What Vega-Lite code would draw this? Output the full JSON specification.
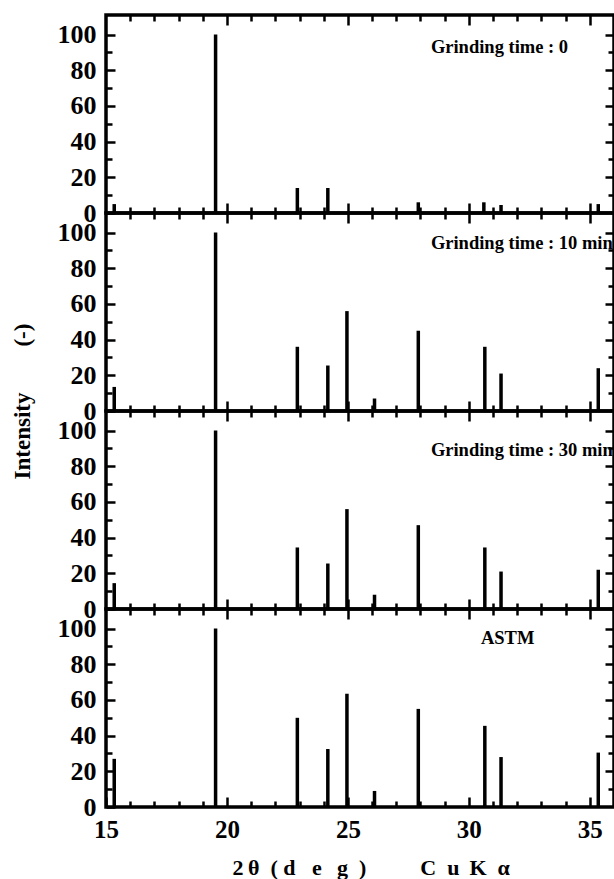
{
  "$schema": "https://vega.github.io/schema/vega-lite/v6.json",
  "background": "white",
  "padding": {"left": 9, "top": 12, "right": 0, "bottom": 0},
  "spacing": 0,
  "bounds": "flush",
  "config": {
    "view": {"stroke": "black", "strokeWidth": 3.5},
    "axis": {"labelOverlap": false, "domain": false, "grid": false, "tickColor": "black", "tickWidth": 2.5, "labelColor": "black", "titleColor": "black"}
  },
  "datasets": {
    "peaks": [
      {"panel": "t0", "two_theta": 15.34, "intensity": 5},
      {"panel": "t0", "two_theta": 19.53, "intensity": 100},
      {"panel": "t0", "two_theta": 22.91, "intensity": 14},
      {"panel": "t0", "two_theta": 24.17, "intensity": 14},
      {"panel": "t0", "two_theta": 27.91, "intensity": 6},
      {"panel": "t0", "two_theta": 30.62, "intensity": 6},
      {"panel": "t0", "two_theta": 31.33, "intensity": 4.5},
      {"panel": "t0", "two_theta": 35.35, "intensity": 5},
      {"panel": "t10", "two_theta": 15.34, "intensity": 13.5},
      {"panel": "t10", "two_theta": 19.53, "intensity": 100},
      {"panel": "t10", "two_theta": 22.91, "intensity": 36},
      {"panel": "t10", "two_theta": 24.17, "intensity": 25.5},
      {"panel": "t10", "two_theta": 24.96, "intensity": 56},
      {"panel": "t10", "two_theta": 26.1, "intensity": 7},
      {"panel": "t10", "two_theta": 27.91, "intensity": 45},
      {"panel": "t10", "two_theta": 30.66, "intensity": 36},
      {"panel": "t10", "two_theta": 31.33, "intensity": 21},
      {"panel": "t10", "two_theta": 35.35, "intensity": 24},
      {"panel": "t30", "two_theta": 15.34, "intensity": 14.5},
      {"panel": "t30", "two_theta": 19.53, "intensity": 100},
      {"panel": "t30", "two_theta": 22.91, "intensity": 34.5},
      {"panel": "t30", "two_theta": 24.17, "intensity": 25.5},
      {"panel": "t30", "two_theta": 24.96, "intensity": 56},
      {"panel": "t30", "two_theta": 26.1, "intensity": 8},
      {"panel": "t30", "two_theta": 27.91, "intensity": 47},
      {"panel": "t30", "two_theta": 30.66, "intensity": 34.5},
      {"panel": "t30", "two_theta": 31.33, "intensity": 21},
      {"panel": "t30", "two_theta": 35.35, "intensity": 22},
      {"panel": "astm", "two_theta": 15.34, "intensity": 27},
      {"panel": "astm", "two_theta": 19.53, "intensity": 100},
      {"panel": "astm", "two_theta": 22.91, "intensity": 50},
      {"panel": "astm", "two_theta": 24.17, "intensity": 32.5},
      {"panel": "astm", "two_theta": 24.96, "intensity": 63.5},
      {"panel": "astm", "two_theta": 26.1, "intensity": 9},
      {"panel": "astm", "two_theta": 27.91, "intensity": 55},
      {"panel": "astm", "two_theta": 30.66, "intensity": 45.5},
      {"panel": "astm", "two_theta": 31.33, "intensity": 28},
      {"panel": "astm", "two_theta": 35.35, "intensity": 30.5}
    ]
  },
  "vconcat": [
    {
      "width": 508, "height": 198,
      "layer": [
        {
          "data": {"name": "peaks"},
          "transform": [{"filter": "datum.panel === 't0'"}],
          "mark": {"type": "rule", "strokeWidth": 3.5, "color": "black"},
          "encoding": {
            "x": {"field": "two_theta", "type": "quantitative", "scale": {"domain": [15, 36], "nice": false, "zero": false},
              "axis": {"orient": "bottom", "values": [16,17,18,19,20,21,22,23,24,25,26,27,28,29,30,31,32,33,34,35], "labels": false, "title": null,
                "tickSize": {"condition": {"test": "datum.value % 5 === 0", "value": -10}, "value": -6}}},
            "y": {"field": "intensity", "type": "quantitative", "scale": {"domain": [0, 111], "nice": false},
              "axis": {"orient": "left", "values": [0,10,20,30,40,50,60,70,80,90,100], "title": null,
                "labelExpr": "datum.value % 20 === 0 ? datum.label : ''", "labelFont": "Liberation Serif", "labelFontWeight": "bold", "labelFontSize": 26, "labelPadding": 19,
                "tickSize": {"condition": {"test": "datum.value % 20 === 0", "value": -9}, "value": -6}}},
            "y2": {"datum": 0}
          }
        },
        {
          "data": {"values": [{"label": "Grinding time : 0"}]},
          "mark": {"type": "text", "align": "left", "baseline": "middle", "font": "Liberation Serif", "fontWeight": "bold", "fontSize": 18.5, "color": "black"},
          "encoding": {
            "x": {"datum": 28.43, "type": "quantitative",
              "axis": {"orient": "top", "values": [16,17,18,19,20,21,22,23,24,25,26,27,28,29,30,31,32,33,34,35], "labels": false, "title": null,
                "tickSize": {"condition": {"test": "datum.value % 5 === 0", "value": -10}, "value": -6}}},
            "y": {"datum": 93, "type": "quantitative",
              "axis": {"orient": "right", "values": [10,20,30,40,50,60,70,80,90,100], "labels": false, "title": null,
                "tickSize": {"condition": {"test": "datum.value % 20 === 0", "value": -9}, "value": -6}}},
            "text": {"field": "label"}
          }
        }
      ],
      "resolve": {"axis": {"x": "independent", "y": "independent"}}
    },
    {
      "width": 508, "height": 198,
      "layer": [
        {
          "data": {"name": "peaks"},
          "transform": [{"filter": "datum.panel === 't10'"}],
          "mark": {"type": "rule", "strokeWidth": 3.5, "color": "black"},
          "encoding": {
            "x": {"field": "two_theta", "type": "quantitative", "scale": {"domain": [15, 36], "nice": false, "zero": false},
              "axis": {"orient": "bottom", "values": [16,17,18,19,20,21,22,23,24,25,26,27,28,29,30,31,32,33,34,35], "labels": false, "title": null,
                "tickSize": {"condition": {"test": "datum.value % 5 === 0", "value": -10}, "value": -6}}},
            "y": {"field": "intensity", "type": "quantitative", "scale": {"domain": [0, 111], "nice": false},
              "axis": {"orient": "left", "values": [0,10,20,30,40,50,60,70,80,90,100],
                "title": "Intensity\u00a0\u00a0\u00a0\u00a0\u00a0\u00a0\u00a0\u00a0(-)", "titleFont": "Liberation Serif", "titleFontWeight": "bold", "titleFontSize": 23,
                "titleAngle": 270, "titleX": -84, "titleY": 188, "titleAlign": "center", "titleBaseline": "middle",
                "labelExpr": "datum.value % 20 === 0 ? datum.label : ''", "labelFont": "Liberation Serif", "labelFontWeight": "bold", "labelFontSize": 26, "labelPadding": 19,
                "tickSize": {"condition": {"test": "datum.value % 20 === 0", "value": -9}, "value": -6}}},
            "y2": {"datum": 0}
          }
        },
        {
          "data": {"values": [{"label": "Grinding time : 10 min"}]},
          "mark": {"type": "text", "align": "left", "baseline": "middle", "font": "Liberation Serif", "fontWeight": "bold", "fontSize": 18.5, "color": "black"},
          "encoding": {
            "x": {"datum": 28.43, "type": "quantitative",
              "axis": {"orient": "top", "values": [16,17,18,19,20,21,22,23,24,25,26,27,28,29,30,31,32,33,34,35], "labels": false, "title": null,
                "tickSize": {"condition": {"test": "datum.value % 5 === 0", "value": -10}, "value": -6}}},
            "y": {"datum": 94, "type": "quantitative",
              "axis": {"orient": "right", "values": [10,20,30,40,50,60,70,80,90,100], "labels": false, "title": null,
                "tickSize": {"condition": {"test": "datum.value % 20 === 0", "value": -9}, "value": -6}}},
            "text": {"field": "label"}
          }
        }
      ],
      "resolve": {"axis": {"x": "independent", "y": "independent"}}
    },
    {
      "width": 508, "height": 198,
      "layer": [
        {
          "data": {"name": "peaks"},
          "transform": [{"filter": "datum.panel === 't30'"}],
          "mark": {"type": "rule", "strokeWidth": 3.5, "color": "black"},
          "encoding": {
            "x": {"field": "two_theta", "type": "quantitative", "scale": {"domain": [15, 36], "nice": false, "zero": false},
              "axis": {"orient": "bottom", "values": [16,17,18,19,20,21,22,23,24,25,26,27,28,29,30,31,32,33,34,35], "labels": false, "title": null,
                "tickSize": {"condition": {"test": "datum.value % 5 === 0", "value": -10}, "value": -6}}},
            "y": {"field": "intensity", "type": "quantitative", "scale": {"domain": [0, 111], "nice": false},
              "axis": {"orient": "left", "values": [0,10,20,30,40,50,60,70,80,90,100], "title": null,
                "labelExpr": "datum.value % 20 === 0 ? datum.label : ''", "labelFont": "Liberation Serif", "labelFontWeight": "bold", "labelFontSize": 26, "labelPadding": 19,
                "tickSize": {"condition": {"test": "datum.value % 20 === 0", "value": -9}, "value": -6}}},
            "y2": {"datum": 0}
          }
        },
        {
          "data": {"values": [{"label": "Grinding time : 30 min"}]},
          "mark": {"type": "text", "align": "left", "baseline": "middle", "font": "Liberation Serif", "fontWeight": "bold", "fontSize": 18.5, "color": "black"},
          "encoding": {
            "x": {"datum": 28.43, "type": "quantitative",
              "axis": {"orient": "top", "values": [16,17,18,19,20,21,22,23,24,25,26,27,28,29,30,31,32,33,34,35], "labels": false, "title": null,
                "tickSize": {"condition": {"test": "datum.value % 5 === 0", "value": -10}, "value": -6}}},
            "y": {"datum": 89, "type": "quantitative",
              "axis": {"orient": "right", "values": [10,20,30,40,50,60,70,80,90,100], "labels": false, "title": null,
                "tickSize": {"condition": {"test": "datum.value % 20 === 0", "value": -9}, "value": -6}}},
            "text": {"field": "label"}
          }
        }
      ],
      "resolve": {"axis": {"x": "independent", "y": "independent"}}
    },
    {
      "width": 508, "height": 198,
      "layer": [
        {
          "data": {"name": "peaks"},
          "transform": [{"filter": "datum.panel === 'astm'"}],
          "mark": {"type": "rule", "strokeWidth": 3.5, "color": "black"},
          "encoding": {
            "x": {"field": "two_theta", "type": "quantitative", "scale": {"domain": [15, 36], "nice": false, "zero": false},
              "axis": {"orient": "bottom", "values": [15,16,17,18,19,20,21,22,23,24,25,26,27,28,29,30,31,32,33,34,35],
                "labelExpr": "datum.value % 5 === 0 ? datum.label : ''", "labelFont": "Liberation Serif", "labelFontWeight": "bold", "labelFontSize": 25, "labelPadding": 20, "labelFlush": false,
                "title": "2\u2009\u03b8\u00a0\u00a0(\u00a0d\u00a0\u00a0\u00a0e\u00a0\u00a0\u2009g\u00a0\u00a0)\u00a0\u00a0\u00a0\u00a0\u00a0\u00a0\u00a0\u00a0\u00a0\u2009C\u00a0\u00a0u\u00a0\u2009K\u00a0\u00a0\u03b1",
                "titleFont": "Liberation Serif", "titleFontWeight": "bold", "titleFontSize": 22, "titleAlign": "left", "titleAnchor": "start", "titleX": 126, "titleY": 67, "titleBaseline": "alphabetic",
                "tickSize": {"condition": {"test": "datum.value % 5 === 0", "value": -10}, "value": -6}}},
            "y": {"field": "intensity", "type": "quantitative", "scale": {"domain": [0, 111], "nice": false},
              "axis": {"orient": "left", "values": [0,10,20,30,40,50,60,70,80,90,100], "title": null,
                "labelExpr": "datum.value % 20 === 0 ? datum.label : ''", "labelFont": "Liberation Serif", "labelFontWeight": "bold", "labelFontSize": 26, "labelPadding": 19,
                "tickSize": {"condition": {"test": "datum.value % 20 === 0", "value": -9}, "value": -6}}},
            "y2": {"datum": 0}
          }
        },
        {
          "data": {"values": [{"label": "ASTM"}]},
          "mark": {"type": "text", "align": "left", "baseline": "middle", "font": "Liberation Serif", "fontWeight": "bold", "fontSize": 18.5, "color": "black"},
          "encoding": {
            "x": {"datum": 30.5, "type": "quantitative",
              "axis": {"orient": "top", "values": [16,17,18,19,20,21,22,23,24,25,26,27,28,29,30,31,32,33,34,35], "labels": false, "title": null,
                "tickSize": {"condition": {"test": "datum.value % 5 === 0", "value": -10}, "value": -6}}},
            "y": {"datum": 95, "type": "quantitative",
              "axis": {"orient": "right", "values": [10,20,30,40,50,60,70,80,90,100], "labels": false, "title": null,
                "tickSize": {"condition": {"test": "datum.value % 20 === 0", "value": -9}, "value": -6}}},
            "text": {"field": "label"}
          }
        }
      ],
      "resolve": {"axis": {"x": "independent", "y": "independent"}}
    }
  ]
}
